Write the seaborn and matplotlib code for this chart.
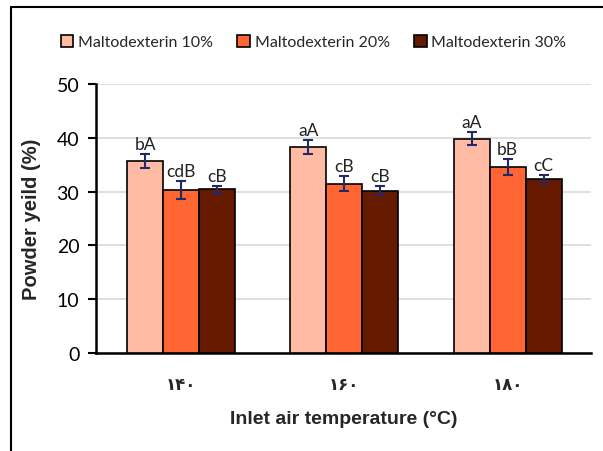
import matplotlib
matplotlib.use("Agg")
import matplotlib.pyplot as plt
import seaborn as sns
import pandas as pd
from matplotlib.lines import Line2D
from matplotlib.patches import Patch

temps = ["۱۴۰", "۱۶۰", "۱۸۰"]
series = ["Maltodexterin 10%", "Maltodexterin 20%", "Maltodexterin 30%"]
vals_10 = [35.7, 38.2, 39.8]
vals_20 = [30.3, 31.5, 34.6]
vals_30 = [30.4, 30.2, 32.3]
err_10 = [1.3, 1.3, 1.2]
err_20 = [1.7, 1.4, 1.5]
err_30 = [0.7, 0.8, 0.7]
labels_10 = ["bA", "aA", "aA"]
labels_20 = ["cdB", "cB", "bB"]
labels_30 = ["cB", "cB", "cC"]
yticks = [0, 10, 20, 30, 40, 50]

colors = ["#FFBBA3", "#FF6633", "#651A00"]

rows = []
for s, v, e, l in zip(series, [vals_10, vals_20, vals_30], [err_10, err_20, err_30],
                      [labels_10, labels_20, labels_30]):
    for t, vi, ei, li in zip(temps, v, e, l):
        rows.append({"temp": t, "series": s, "value": vi, "err": ei, "label": li})
df = pd.DataFrame(rows)

sns.set_style("white")
plt.rcParams["font.family"] = ["Lato", "DejaVu Sans"]

fig = plt.figure(figsize=(6.03, 4.52), dpi=100)
ax = fig.add_axes([96/603, 1-354/452, (591-96)/603, (354-85)/452])

sns.barplot(data=df, x="temp", y="value", hue="series", order=temps, hue_order=series,
            palette=colors, saturation=1, width=0.66, edgecolor="black", linewidth=1.2,
            errorbar=None, legend=False, ax=ax, zorder=3)

for si, s in enumerate(series):
    cont = ax.containers[si]
    sub = df[df["series"] == s].set_index("temp").loc[temps]
    xs = [p.get_x() + p.get_width()/2 for p in cont.patches]
    ax.errorbar(xs, sub["value"].values, yerr=sub["err"].values, fmt="none",
                ecolor="#1F2A6B", elinewidth=1.5, capsize=3.5, capthick=1.5, zorder=4)
    for x, v, e, lab in zip(xs, sub["value"].values, sub["err"].values, sub["label"].values):
        ax.text(x, v + e + 0.4, lab, ha="center", va="bottom", fontsize=12.5,
                color="#222222", zorder=5)

ax.set_ylim(0, 50)
ax.set_xlim(-0.52, 2.51)
ax.set_yticks(yticks)
ax.yaxis.grid(True, color="#D9D9D9", linewidth=1.2, zorder=0)
ax.set_axisbelow(True)
for sp in ["top", "right"]:
    ax.spines[sp].set_visible(False)
ax.spines["left"].set_linewidth(1.8)
ax.spines["bottom"].set_linewidth(1.8)
ax.spines["left"].set_color("black")
ax.spines["bottom"].set_color("black")
ax.tick_params(axis="y", direction="out", length=6, width=1.5, left=True, labelsize=14,
               pad=6, colors="black")
ax.tick_params(axis="x", length=0, pad=16)
for t in ax.get_xticklabels():
    t.set_fontfamily(["DejaVu Sans"])
    t.set_fontweight("bold")
    t.set_fontsize(12)
ax.set_xlabel("Inlet air temperature (°C)", fontsize=14, fontweight="bold",
              fontfamily=["Liberation Sans", "DejaVu Sans"], labelpad=12)
ax.set_ylabel("Powder yeild (%)", fontsize=14.5, fontweight="bold",
              fontfamily=["Liberation Sans", "DejaVu Sans"], labelpad=11)

handles = [Patch(facecolor=c, edgecolor="black", linewidth=1.2, label=s) for c, s in zip(colors, series)]
fig.legend(handles=handles, loc="center", bbox_to_anchor=(0.52, 1-43/452), ncol=3, frameon=False,
           fontsize=11.5, handlelength=0.8, handleheight=0.8, handletextpad=0.3, columnspacing=1.5)

fig.add_artist(Line2D([11/603, 11/603], [0, 1-8/452], color="black", linewidth=1.5,
                      transform=fig.transFigure))
fig.add_artist(Line2D([11/603, 1], [1-8/452, 1-8/452], color="black", linewidth=1.5,
                      transform=fig.transFigure))

fig.savefig("out.png", dpi=100)
